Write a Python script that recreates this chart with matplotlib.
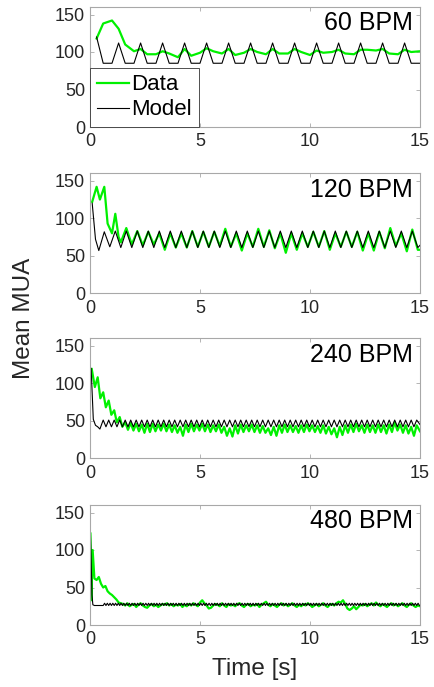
import numpy as np
import matplotlib
matplotlib.use("Agg")
import matplotlib.pyplot as plt

plt.rcParams['font.family'] = ['Liberation Sans', 'DejaVu Sans']

# ---------------- data ----------------
panel_labels = ["60 BPM", "120 BPM", "240 BPM", "480 BPM"]
xticks = [0, 5, 10, 15]
yticks = [0, 50, 100, 150]

# ---- 60 BPM (sample times typed) ----
t60 = [0.3, 0.6, 1.0, 1.3, 1.6, 2.0, 2.3, 2.6, 3.0, 3.3, 3.6, 4.0, 4.3, 4.6, 5.0,
       5.3, 5.6, 6.0, 6.3, 6.6, 7.0, 7.3, 7.6, 8.0, 8.3, 8.6, 9.0, 9.3, 9.6, 10.0,
       10.3, 10.6, 11.0, 11.3, 11.6, 12.0, 12.3, 12.6, 13.0, 13.3, 13.6, 14.0, 14.3, 14.6, 15.0]
data60 = [118, 138, 142, 131, 110, 101, 104, 97, 97, 101,
          98, 93, 104, 95, 99, 105, 101, 98, 104, 96,
          99, 104, 100, 97, 104, 98, 98, 104, 100, 96,
          102, 99, 100, 103, 98, 97, 103, 103, 102, 104,
          98, 97, 103, 100, 101]
model60 = [120,
           85, 85, 112, 85, 85, 112, 85, 85, 112, 85, 85, 112, 85, 85, 112,
           85, 85, 112, 85, 85, 112, 85, 85, 112, 85, 85, 112, 85, 85, 112,
           85, 85, 112, 85, 85, 112, 85, 85, 112, 85, 85, 112,
           85, 85]

# ---- 120 BPM ----
model120_early_t = [0.1, 0.25]
model120_early = [120, 72]
model120_grid_start, model120_grid_step = 0.4, 0.25
model120_grid = [57, 82, 62, 83, 61, 83, 61, 83, 61, 83,
                 61, 83, 61, 83, 61, 83, 61, 83, 61, 83,
                 61, 83, 61, 83, 61, 83, 61, 83, 61, 83,
                 61, 83, 61, 83, 61, 83, 61, 83, 61, 83,
                 61, 83, 61, 83, 61, 83, 61, 83, 61, 83,
                 61, 83, 61, 83, 61, 83, 61, 83, 61]
model120_tail_t, model120_tail = [15.0], [64]

data120_early_t = [0.1, 0.3, 0.45, 0.65, 0.8, 1.0, 1.15, 1.3, 1.4]
data120_early = [122, 142, 125, 142, 93, 80, 106, 75, 68]
data120_grid_start, data120_grid_step = 1.65, 0.25
data120_grid = [87, 65, 83, 64, 82, 65, 80, 58, 80, 61,
                80, 61, 83, 62, 82, 62, 82, 63, 86, 62,
                80, 57, 80, 62, 86, 62, 84, 60, 80, 54,
                80, 58, 80, 62, 82, 62, 83, 58, 80, 62,
                82, 62, 82, 57, 80, 57, 82, 60, 87, 63,
                80, 56, 85, 58]
data120_tail_t, data120_tail = [15.0], [58]

# ---- 240 BPM ----
model240_early_t = [0.05, 0.15, 0.25, 0.35, 0.45]
model240_early = [120, 52, 44, 42, 39]
model240_grid_start, model240_grid_step = 0.6, 0.125
model240_grid = [51, 42, 51, 42, 51, 42, 51, 42, 51, 42,
                 51, 42, 51, 42, 51, 42, 51, 42, 51, 42,
                 51, 42, 51, 42, 51, 42, 51, 42, 51, 42,
                 51, 42, 51, 42, 51, 42, 51, 42, 51, 42,
                 51, 42, 51, 42, 51, 42, 51, 42, 51, 42,
                 51, 42, 51, 42, 51, 42, 51, 42, 51, 42,
                 51, 42, 51, 42, 51, 42, 51, 42, 51, 42,
                 51, 42, 51, 42, 51, 42, 51, 42, 51, 42,
                 51, 42, 51, 42, 51, 42, 51, 42, 51, 42,
                 51, 42, 51, 42, 51, 42, 51, 42, 51, 42,
                 51, 42, 51, 42, 51, 42, 51, 42, 51, 42,
                 51, 42, 51, 42, 51]
model240_tail_t, model240_tail = [15.0], [45]

data240_early_t = [0.08, 0.22, 0.35, 0.47, 0.6, 0.72, 0.85, 0.97, 1.1, 1.22, 1.35, 1.47]
data240_early = [119, 95, 108, 80, 88, 68, 77, 58, 64, 48, 55, 42]
data240_grid_start, data240_grid_step = 1.6, 0.125
data240_grid = [48, 38, 47, 37, 46, 36, 45, 34, 46, 35, 46, 36, 45, 37, 46, 36, 45, 35, 44, 34,
                42, 30, 45, 35, 46, 36, 45, 37, 46, 36, 45, 35, 44, 36, 45, 34, 42, 30, 40, 29,
                44, 33, 45, 35, 44, 36, 45, 35, 44, 34, 43, 34, 40, 31, 42, 30, 44, 34, 45, 35,
                44, 35, 43, 34, 44, 35, 45, 36, 44, 35, 43, 34, 44, 33, 42, 32, 40, 28, 42, 31,
                44, 34, 45, 35, 46, 36, 44, 34, 45, 35, 44, 34, 45, 35, 44, 33, 45, 35, 48, 37,
                45, 34, 44, 33, 42, 30, 44]
data240_tail_t, data240_tail = [15.0], [36]

# ---- 480 BPM ----
model480_early_t = [0.02, 0.05, 0.09, 0.13, 0.2]
model480_early = [122, 90, 40, 27, 26]
model480_grid_start, model480_grid_step = 0.6, 0.0625
model480_grid = [26, 29, 26, 29, 26, 29, 26, 29, 26, 29, 26, 29, 26, 29, 26, 29, 26, 29, 26, 29,
                 26, 29, 26, 29, 26, 29, 26, 29, 26, 29, 26, 29, 26, 29, 26, 29, 26, 29, 26, 29,
                 26, 29, 26, 29, 26, 29, 26, 29, 26, 29, 26, 29, 26, 29, 26, 29, 26, 29, 26, 29,
                 26, 29, 26, 29, 26, 29, 26, 29, 26, 29, 26, 29, 26, 29, 26, 29, 26, 29, 26, 29,
                 26, 29, 26, 29, 26, 29, 26, 29, 26, 29, 26, 29, 26, 29, 26, 29, 26, 29, 26, 29,
                 26, 29, 26, 29, 26, 29, 26, 29, 26, 29, 26, 29, 26, 29, 26, 29, 26, 29, 26, 29,
                 26, 29, 26, 29, 26, 29, 26, 29, 26, 29, 26, 29, 26, 29, 26, 29, 26, 29, 26, 29,
                 26, 29, 26, 29, 26, 29, 26, 29, 26, 29, 26, 29, 26, 29, 26, 29, 26, 29, 26, 29,
                 26, 29, 26, 29, 26, 29, 26, 29, 26, 29, 26, 29, 26, 29, 26, 29, 26, 29, 26, 29,
                 26, 29, 26, 29, 26, 29, 26, 29, 26, 29, 26, 29, 26, 29, 26, 29, 26, 29, 26, 29,
                 26, 29, 26, 29, 26, 29, 26, 29, 26, 29, 26, 29, 26, 29, 26, 29, 26, 29, 26, 29,
                 26, 29, 26, 29, 26, 29, 26, 29, 26, 29, 26]
model480_tail_t, model480_tail = [], []

data480_early_t = [0.02, 0.06, 0.12, 0.2, 0.3, 0.4, 0.5, 0.6, 0.7, 0.8, 0.9, 1.0, 1.1, 1.2, 1.3, 1.4]
data480_early = [122, 33, 100, 62, 60, 64, 55, 50, 52, 45, 42, 40, 37, 34, 30, 29]
data480_grid_start, data480_grid_step = 1.5, 0.1
data480_grid = [28, 26, 29, 25, 27, 28, 24, 27, 29, 26,
                24, 23, 26, 28, 25, 27, 24, 26, 28, 27,
                29, 26, 28, 25, 27, 26, 28, 24, 27, 25,
                28, 26, 29, 27, 25, 30, 33, 29, 26, 22,
                23, 26, 28, 27, 25, 29, 26, 24, 28, 26,
                27, 25, 28, 29, 26, 24, 27, 28, 25, 27,
                26, 28, 24, 27, 29, 31, 27, 25, 28, 26,
                24, 27, 29, 26, 28, 25, 27, 29, 26, 24,
                27, 25, 28, 26, 29, 27, 24, 26, 28, 25,
                27, 29, 26, 24, 27, 28, 26, 29, 31, 30,
                33, 28, 22, 20, 22, 25, 21, 24, 27, 26,
                28, 25, 27, 29, 26, 30, 27, 25, 28, 26,
                24, 27, 29, 26, 28, 25, 27, 29, 26, 24,
                27, 29, 26, 24, 26, 25]
data480_tail_t, data480_tail = [], []


def assemble(early_t, early_v, start, step, grid_v, tail_t, tail_v):
    """Sample times: typed early points, then regularly sampled points."""
    grid_t = start + step * np.arange(len(grid_v))
    t = np.concatenate([early_t, grid_t, tail_t])
    v = np.concatenate([early_v, grid_v, tail_v])
    return t, v


series = [
    ((t60, data60), (t60, model60)),
    (assemble(data120_early_t, data120_early, data120_grid_start, data120_grid_step,
              data120_grid, data120_tail_t, data120_tail),
     assemble(model120_early_t, model120_early, model120_grid_start, model120_grid_step,
              model120_grid, model120_tail_t, model120_tail)),
    (assemble(data240_early_t, data240_early, data240_grid_start, data240_grid_step,
              data240_grid, data240_tail_t, data240_tail),
     assemble(model240_early_t, model240_early, model240_grid_start, model240_grid_step,
              model240_grid, model240_tail_t, model240_tail)),
    (assemble(data480_early_t, data480_early, data480_grid_start, data480_grid_step,
              data480_grid, data480_tail_t, data480_tail),
     assemble(model480_early_t, model480_early, model480_grid_start, model480_grid_step,
              model480_grid, model480_tail_t, model480_tail)),
]

# ---------------- figure ----------------
W, H = 434, 687
fig = plt.figure(figsize=(W / 100, H / 100), dpi=100)

ax_left, ax_w, ax_h = 90, 330, 120
ax_bottoms_px = [127, 293.3, 458.3, 625]

green = '#00f000'
spine_col = '#a8a8a8'
text_col = '#262626'

for i, ((td, yd), (tm, ym)) in enumerate(series):
    b = ax_bottoms_px[i]
    ax = fig.add_axes([ax_left / W, 1 - b / H, ax_w / W, ax_h / H])
    ax.plot(td, yd, color=green, lw=1.6, label='Data', solid_joinstyle='round')
    ax.plot(tm, ym, color='black', lw=0.8, label='Model')
    ax.set_xlim(0, 15)
    ax.set_ylim(0, 160)
    ax.set_xticks(xticks)
    ax.set_yticks(yticks)
    ax.tick_params(direction='in', length=3, width=0.6, color=spine_col,
                   labelsize=13, labelcolor=text_col, top=True, right=True)
    ax.tick_params(axis='x', pad=4.5)
    ax.tick_params(axis='y', pad=3.5)
    for s in ax.spines.values():
        s.set_color(spine_col)
        s.set_linewidth(0.8)
    ax.text(0.978, 0.965, panel_labels[i], transform=ax.transAxes, ha='right', va='top',
            fontsize=18, color='black')
    if i == 0:
        leg = ax.legend(loc='lower left', bbox_to_anchor=(0, 0), borderaxespad=0,
                        fontsize=16, handlelength=1.45, handletextpad=0.12,
                        labelspacing=0.18, borderpad=0.3, fancybox=False,
                        framealpha=1, edgecolor='#333333')
        leg.get_frame().set_linewidth(0.6)

fig.text(24 / W, 1 - 318 / H, 'Mean MUA', rotation=90, ha='center', va='center',
         fontsize=17.5, color=text_col)
fig.text(255 / W, 1 - 669 / H, 'Time [s]', ha='center', va='center',
         fontsize=17.5, color=text_col)

fig.savefig('out.png', dpi=100)
